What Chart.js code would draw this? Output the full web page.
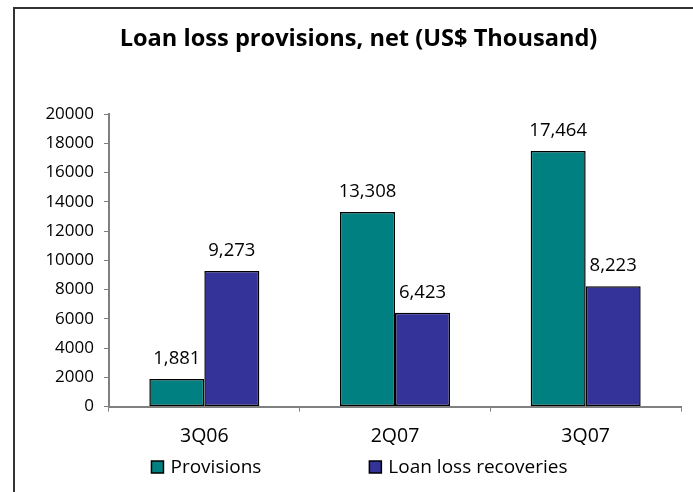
<!DOCTYPE html>
<html>
<head>
<meta charset="utf-8">
<script src="https://cdn.jsdelivr.net/npm/chart.js@4"></script>
<style>
  html, body { margin: 0; padding: 0; background: #fff; overflow: hidden; }
  #frame {
    position: absolute; left: 13px; top: 7px;
    width: 700px; height: 500px;
    border: 2px solid #333;
  }
  #wrap { position: absolute; left: 0; top: 0; width: 678px; height: 483px; }
</style>
</head>
<body>
<div id="frame"><div id="wrap"><canvas id="chart"></canvas></div></div>
<script>
const categories = ['3Q06', '2Q07', '3Q07'];
const provisions = [1881, 13308, 17464];
const recoveries = [9273, 6423, 8223];
const yTicks = [0, 2000, 4000, 6000, 8000, 10000, 12000, 14000, 16000, 18000, 20000];

const FONT = "'Open Sans', sans-serif";

// numbers above each bar
const valueLabels = {
    id: 'valueLabels',
    afterDatasetsDraw(chart) {
        const ctx = chart.ctx;
        ctx.save();
        ctx.font = `18.5px ${FONT}`;
        ctx.fillStyle = '#000';
        ctx.textAlign = 'center';
        ctx.textBaseline = 'alphabetic';
        chart.data.datasets.forEach((ds, i) => {
            chart.getDatasetMeta(i).data.forEach((bar, j) => {
                ctx.fillText(ds.data[j].toLocaleString('en-US'), bar.x, bar.y - 15);
            });
        });
        ctx.restore();
    }
};

// legend with the wide gap between entries (built-in padding also grows the height)
const wideLegend = {
    id: 'wideLegend',
    afterDraw(chart) {
        const ctx = chart.ctx;
        const box = 12, gap = 108, textGap = 7;
        ctx.save();
        ctx.font = `19px ${FONT}`;
        const items = chart.data.datasets.map(ds => ({
            text: ds.label, fill: ds.backgroundColor,
            w: box + textGap + ctx.measureText(ds.label).width
        }));
        const total = items.reduce((s, it) => s + it.w, 0) + gap * (items.length - 1);
        let x = chart.width / 2 + 5.5 - total / 2;
        const y = chart.height - 25;
        ctx.textBaseline = 'middle';
        ctx.textAlign = 'left';
        items.forEach(it => {
            ctx.fillStyle = it.fill;
            ctx.fillRect(x, y - box / 2, box, box);
            ctx.strokeStyle = '#000';
            ctx.lineWidth = 1.5;
            ctx.strokeRect(x, y - box / 2, box, box);
            ctx.fillStyle = '#000';
            ctx.fillText(it.text, x + box + textGap, y + 1);
            x += it.w + gap;
        });
        ctx.restore();
    }
};

new Chart(document.getElementById('chart'), {
    type: 'bar',
    data: {
        labels: categories,
        datasets: [{
            label: 'Provisions',
            data: provisions,
            backgroundColor: '#008080',
            borderColor: '#000',
            borderWidth: 1.5,
            borderSkipped: false
        }, {
            label: 'Loan loss recoveries',
            data: recoveries,
            backgroundColor: '#333399',
            borderColor: '#000',
            borderWidth: 1.5,
            borderSkipped: false
        }]
    },
    options: {
        responsive: true,
        maintainAspectRatio: false,
        animation: false,
        devicePixelRatio: 1,
        // left padding shifts the title right; y-axis width makes up the rest
        layout: { padding: { left: 21, right: 12, top: 0, bottom: 31 } },
        datasets: { bar: { categoryPercentage: 0.577, barPercentage: 1 } },
        scales: {
            x: {
                offset: true,
                grid: { offset: true, drawOnChartArea: false, color: '#808080', tickLength: 5, tickColor: '#808080' },
                border: { color: '#808080', width: 2 },
                ticks: { color: '#000', font: { family: FONT, size: 19.5 }, padding: 13 }
            },
            y: {
                min: 0,
                max: 20000,
                afterBuildTicks: (scale) => { scale.ticks = yTicks.map(v => ({ value: v })); },
                afterFit: (scale) => { scale.width = 73; },
                grid: { drawOnChartArea: false, tickLength: 5, tickColor: '#808080' },
                border: { color: '#808080', width: 2 },
                ticks: { color: '#000', font: { family: FONT, size: 17 }, padding: 10, autoSkip: false, callback: (v) => String(v) }
            }
        },
        plugins: {
            title: {
                display: true,
                text: 'Loan loss provisions, net (US$ Thousand)',
                color: '#000',
                font: { family: FONT, size: 23.6, weight: 'bold' },
                padding: { top: 16, bottom: 60.7 }
            },
            legend: { display: false },
            tooltip: { enabled: false }
        }
    },
    plugins: [valueLabels, wideLegend]
});
</script>
</body>
</html>
